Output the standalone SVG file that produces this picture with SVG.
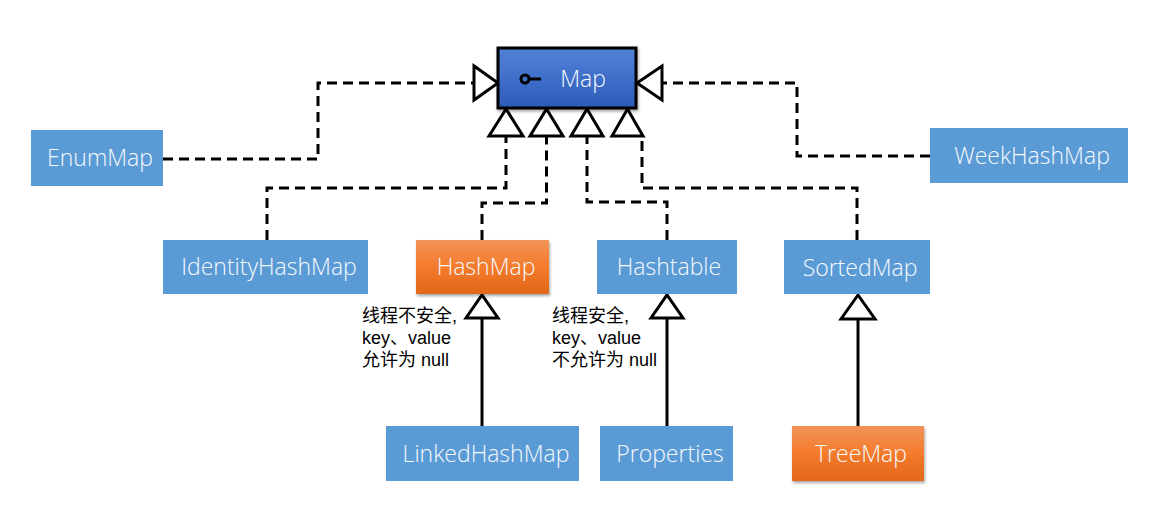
<svg xmlns="http://www.w3.org/2000/svg" width="1170" height="524" viewBox="0 0 1170 524">
<defs>
<linearGradient id="gOrange" x1="0" y1="0" x2="0" y2="1">
<stop offset="0" stop-color="#f29358"/>
<stop offset="0.5" stop-color="#f47b2c"/>
<stop offset="1" stop-color="#e2671a"/>
</linearGradient>
<linearGradient id="gBlue" x1="0" y1="0" x2="0" y2="1">
<stop offset="0" stop-color="#5282d6"/>
<stop offset="0.5" stop-color="#3f6fca"/>
<stop offset="1" stop-color="#2c5bb7"/>
</linearGradient>
<filter id="shadow" x="-10%" y="-10%" width="120%" height="130%">
<feDropShadow dx="1" dy="2" stdDeviation="1.5" flood-color="#000" flood-opacity="0.35"/>
</filter>
</defs>
<style>
.box{fill:#5b9bd5}
.orange{fill:url(#gOrange);filter:url(#shadow)}
.iface{fill:url(#gBlue);stroke:#000;stroke-width:3;filter:url(#shadow)}
.lbl{font-family:"Open Sans","Noto Sans",sans-serif;font-weight:300;font-size:23px;fill:#f6f9fd;text-anchor:middle}
.note{font-family:"Liberation Sans","Noto Sans CJK SC",sans-serif;font-size:18px;fill:#000}
.dash{fill:none;stroke:#000;stroke-width:3;stroke-dasharray:10 6}
.solid{fill:none;stroke:#000;stroke-width:3}
.tri{fill:#fff;stroke:#000;stroke-width:3;stroke-linejoin:miter}
</style>
<rect width="1170" height="524" fill="#fff"/>

<g id="connectors">
<path class="dash" d="M163,159 H318 V83 H474"/>
<polygon class="tri" points="474,66 474,100 498,83"/>
<path class="dash" d="M930,156 H797 V83 H662"/>
<polygon class="tri" points="662,66 662,100 637,83"/>
<path class="dash" d="M267,240 V188 H506 V136"/>
<polygon class="tri" points="489,136 523,136 506,109"/>
<path class="dash" d="M482,240 V203 H546.5 V136"/>
<polygon class="tri" points="530,136 563,136 546.5,109"/>
<path class="dash" d="M667,240 V202 H587 V136"/>
<polygon class="tri" points="571,136 603,136 587,109"/>
<path class="dash" d="M857,240 V188 H642 V136"/>
<polygon class="tri" points="612,136 643,136 627.5,109"/>
<path class="solid" d="M482,426 V318"/>
<polygon class="tri" points="466,318 498,318 482,295"/>
<path class="solid" d="M667,426 V318"/>
<polygon class="tri" points="651,318 683,318 667,295"/>
<path class="solid" d="M858,426 V319"/>
<polygon class="tri" points="841,319 875,319 858,295"/>
</g>

<g id="Map">
<rect class="iface" x="498" y="48" width="138" height="60"/>
<circle cx="525" cy="79" r="4" fill="none" stroke="#000" stroke-width="3"/>
<line x1="529" y1="79" x2="541" y2="79" stroke="#000" stroke-width="3"/>
<text class="lbl" x="583" y="87" font-size="24">Map</text>
</g>
<g id="EnumMap">
<rect class="box" x="31" y="130" width="132" height="56"/>
<text class="lbl" x="100" y="166">EnumMap</text>
</g>
<g id="WeekHashMap">
<rect class="box" x="930" y="128" width="198" height="55"/>
<text class="lbl" x="1032" y="164">WeekHashMap</text>
</g>
<g id="IdentityHashMap">
<rect class="box" x="163" y="240" width="205" height="54"/>
<text class="lbl" x="269" y="275">IdentityHashMap</text>
</g>
<g id="HashMap">
<rect class="orange" x="416" y="240" width="133" height="54"/>
<text class="lbl" x="486" y="275">HashMap</text>
</g>
<g id="Hashtable">
<rect class="box" x="597" y="240" width="140" height="54"/>
<text class="lbl" x="669" y="275">Hashtable</text>
</g>
<g id="SortedMap">
<rect class="box" x="784" y="240" width="146" height="54"/>
<text class="lbl" x="860" y="276">SortedMap</text>
</g>
<g id="LinkedHashMap">
<rect class="box" x="386" y="426" width="193" height="55"/>
<text class="lbl" x="486" y="462">LinkedHashMap</text>
</g>
<g id="Properties">
<rect class="box" x="600" y="426" width="133" height="55"/>
<text class="lbl" x="670" y="462">Properties</text>
</g>
<g id="TreeMap">
<rect class="orange" x="792" y="426" width="132" height="55"/>
<text class="lbl" x="861" y="462">TreeMap</text>
</g>

<g id="notes">
<text class="note" x="362" y="322">线程不安全,</text>
<text class="note" x="362" y="344">key、value</text>
<text class="note" x="362" y="366">允许为 null</text>
<text class="note" x="552" y="322">线程安全,</text>
<text class="note" x="552" y="344">key、value</text>
<text class="note" x="552" y="366">不允许为 null</text>
</g>
</svg>
